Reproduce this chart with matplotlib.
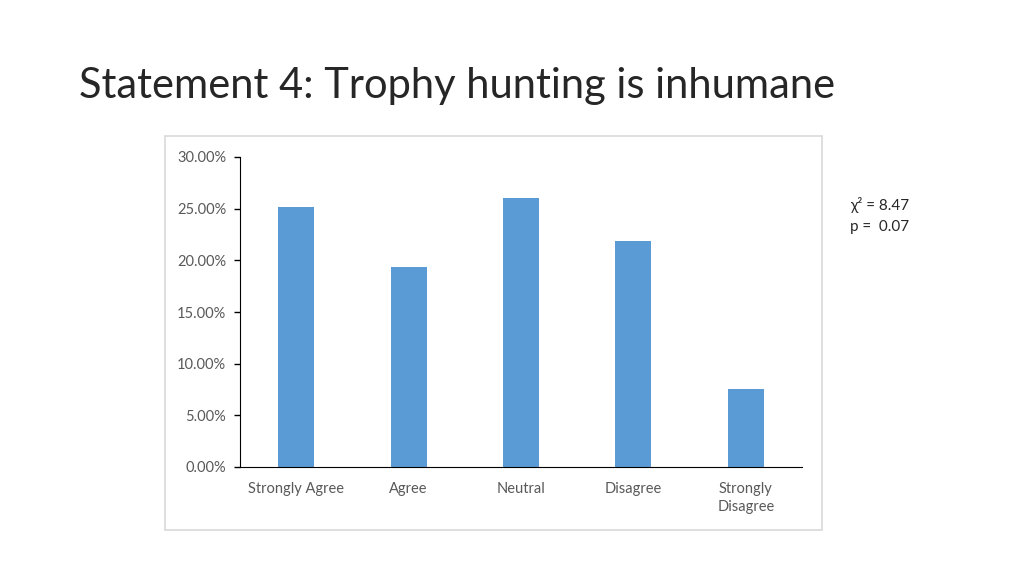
import matplotlib.pyplot as plt
from matplotlib.patches import Rectangle
from matplotlib.ticker import PercentFormatter

# Survey responses for statement 4
categories = ['Strongly Agree', 'Agree', 'Neutral', 'Disagree', 'Strongly\nDisagree']
shares = [25.2, 19.35, 26.0, 21.87, 7.54]
yticks = [0, 5, 10, 15, 20, 25, 30]

plt.rcParams['font.family'] = ['Lato', 'DejaVu Sans']

fig = plt.figure(figsize=(10.24, 5.76), dpi=100)

# slide title
fig.text(79 / 1024, 1 - 86 / 576, 'Statement 4: Trophy hunting is inhumane',
         fontsize=30, color='#262626', va='center', ha='left')

# chart frame
fig.patches.append(Rectangle((165 / 1024, 1 - 530 / 576), 657 / 1024, 394 / 576,
                             transform=fig.transFigure, fill=False,
                             edgecolor='#d9d9d9', linewidth=1.2))

ax = fig.add_axes([240 / 1024, 1 - 467 / 576, 562 / 1024, 310 / 576])
ax.bar(range(len(categories)), shares, width=0.32, color='#5b9bd5')
ax.set_xlim(-0.5, len(categories) - 0.5)
ax.set_ylim(0, 30)
ax.set_yticks(yticks)
ax.yaxis.set_major_formatter(PercentFormatter(decimals=2))
ax.set_xticks(range(len(categories)))
ax.set_xticklabels(categories, linespacing=1.35)
ax.tick_params(axis='x', length=0, pad=11, labelsize=10.5, labelcolor='#595959')
ax.tick_params(axis='y', length=4, width=1, pad=6, labelsize=10.5, labelcolor='#595959')
for side in ['top', 'right']:
    ax.spines[side].set_visible(False)
ax.spines['left'].set_color('black')
ax.spines['bottom'].set_color('black')

# chi-square result
fig.text(850 / 1024, 1 - 205 / 576, 'χ² = 8.47', fontsize=11, color='#262626', va='center')
fig.text(850 / 1024, 1 - 227 / 576, 'p =  0.07', fontsize=11, color='#262626', va='center')

fig.savefig('out.png', dpi=100)
